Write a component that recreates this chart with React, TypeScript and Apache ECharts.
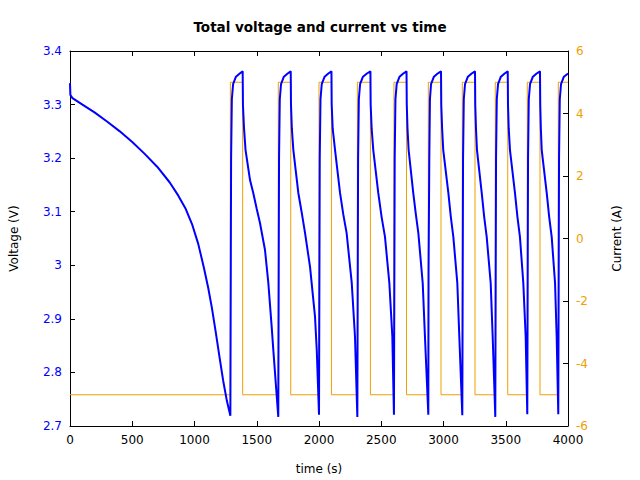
import React, { useEffect, useRef } from "react";
import * as echarts from "echarts";

// ---- Data ----
const xTicks = { min: 0, max: 4000, interval: 500 };
const voltageAxis = { min: 2.7, max: 3.4, interval: 0.1 };
const currentAxis = { min: -6, max: 6, interval: 2 };

// current square wave (A)
const currentHigh = 5;
const currentLow = -5;
const currentRiseTimes = [1288, 1673, 2000, 2308, 2602, 2878, 3151, 3416, 3673, 3922];
const currentFallTimes = [1387, 1773, 2100, 2413, 2703, 2980, 3253, 3516, 3775];

// voltage (V) segments: [time s, voltage V]
const initialDischarge = [
  [0, 3.34], [3, 3.318], [20, 3.312], [100, 3.3], [200, 3.285], [300, 3.268],
  [400, 3.25], [500, 3.23], [600, 3.208], [700, 3.184], [800, 3.155],
  [870, 3.13], [930, 3.105], [980, 3.077], [1030, 3.04], [1075, 2.996],
  [1110, 2.958], [1140, 2.92], [1170, 2.876], [1200, 2.83], [1230, 2.785], [1260, 2.747],
];
const pulse1 = [[1288, 2.719], [1294, 3.2], [1300, 3.31], [1310, 3.338], [1333, 3.352], [1363, 3.358], [1387, 3.362]];
const discharge1 = [[1389, 3.3], [1398, 3.255], [1410, 3.215], [1446, 3.159], [1472, 3.135], [1500, 3.105], [1526, 3.079], [1566, 3.029], [1593, 2.967], [1620, 2.885], [1633, 2.842]];
const pulse2 = [[1673, 2.717], [1679, 3.2], [1685, 3.31], [1695, 3.338], [1718, 3.352], [1748, 3.358], [1773, 3.362]];
const discharge2 = [[1775, 3.3], [1782, 3.255], [1794, 3.215], [1822, 3.159], [1834, 3.135], [1860, 3.1], [1888, 3.06], [1928, 2.997], [1968, 2.904], [1982, 2.842]];
const pulse3 = [[2000, 2.721], [2006, 3.2], [2012, 3.31], [2022, 3.338], [2045, 3.352], [2075, 3.358], [2100, 3.362]];
const discharge3 = [[2102, 3.3], [2110, 3.255], [2129, 3.215], [2169, 3.135], [2195, 3.095], [2222, 3.06], [2263, 2.967], [2289, 2.867]];
const pulse4 = [[2308, 2.717], [2314, 3.2], [2320, 3.31], [2330, 3.338], [2353, 3.352], [2385, 3.358], [2413, 3.362]];
const discharge4 = [[2415, 3.3], [2423, 3.255], [2436, 3.215], [2476, 3.135], [2503, 3.09], [2530, 3.053], [2565, 2.967], [2589, 2.867]];
const pulse5 = [[2602, 2.721], [2608, 3.2], [2614, 3.31], [2624, 3.338], [2647, 3.352], [2677, 3.358], [2703, 3.362]];
const discharge5 = [[2705, 3.3], [2711, 3.255], [2720, 3.215], [2757, 3.135], [2778, 3.095], [2798, 3.06], [2833, 2.967], [2851, 2.867]];
const pulse6 = [[2878, 2.721], [2880, 2.99], [2886, 3.2], [2891, 3.31], [2900, 3.338], [2923, 3.352], [2953, 3.358], [2980, 3.362]];
const discharge6 = [[2982, 3.3], [2989, 3.255], [2998, 3.215], [3039, 3.135], [3059, 3.09], [3079, 3.053], [3111, 2.967], [3127, 2.867]];
const pulse7 = [[3151, 2.72], [3157, 3.2], [3163, 3.31], [3173, 3.338], [3196, 3.352], [3226, 3.358], [3253, 3.362]];
const discharge7 = [[3255, 3.3], [3261, 3.255], [3269, 3.215], [3307, 3.135], [3327, 3.09], [3347, 3.053], [3379, 2.967], [3395, 2.867]];
const pulse8 = [[3416, 2.717], [3422, 3.2], [3428, 3.31], [3438, 3.338], [3461, 3.352], [3491, 3.358], [3516, 3.362]];
const discharge8 = [[3518, 3.3], [3524, 3.255], [3534, 3.215], [3574, 3.135], [3594, 3.09], [3614, 3.053], [3641, 2.967], [3660, 2.867]];
const pulse9 = [[3673, 2.722], [3679, 3.2], [3685, 3.31], [3695, 3.338], [3718, 3.352], [3748, 3.358], [3775, 3.362]];
const discharge9 = [[3777, 3.3], [3782, 3.255], [3789, 3.215], [3829, 3.135], [3849, 3.09], [3869, 3.053], [3896, 2.967], [3909, 2.867]];
const pulse10 = [[3922, 2.722], [3928, 3.2], [3934, 3.31], [3944, 3.338], [3967, 3.352], [4000, 3.358]];

const voltageSegments = [
  initialDischarge, pulse1, discharge1, pulse2, discharge2, pulse3, discharge3,
  pulse4, discharge4, pulse5, discharge5, pulse6, discharge6, pulse7, discharge7,
  pulse8, discharge8, pulse9, discharge9, pulse10,
];

const BLUE = "#0000ff";
const ORANGE = "#eea000";
const FONT = "DejaVu Sans";

export default function App() {
  const ref = useRef<HTMLDivElement>(null);

  useEffect(() => {
    if (!ref.current) return;
    const chart = echarts.init(ref.current, undefined, { renderer: "svg" });

    const voltageData: number[][] = [];
    voltageSegments.forEach((seg) => seg.forEach((p) => voltageData.push(p)));

    const currentData: number[][] = [[0, currentLow]];
    currentRiseTimes.forEach((r, i) => {
      currentData.push([r, currentLow], [r, currentHigh]);
      const f = currentFallTimes[i];
      if (f !== undefined) {
        currentData.push([f, currentHigh], [f, currentLow]);
      } else {
        currentData.push([xTicks.max, currentHigh]);
      }
    });

    const tick = { show: true, inside: true, length: 5, lineStyle: { color: "#000", width: 1 } };
    const axisLine = { show: true, onZero: false, lineStyle: { color: "#000", width: 1 } };

    chart.setOption({
      animation: false,
      backgroundColor: "#ffffff",
      title: {
        text: "Total voltage and current vs time",
        left: "center",
        top: 15,
        textStyle: { fontFamily: FONT, fontSize: 13.5, fontWeight: "bold", color: "#000" },
      },
      grid: { left: 70, right: 72, top: 51, bottom: 54, containLabel: false },
      xAxis: [
        {
          type: "value",
          position: "bottom",
          min: xTicks.min,
          max: xTicks.max,
          interval: xTicks.interval,
          name: "time (s)",
          nameLocation: "middle",
          nameGap: 37,
          nameTextStyle: { fontFamily: FONT, fontSize: 12, color: "#000" },
          axisLine,
          axisTick: tick,
          axisLabel: {
            fontFamily: FONT,
            fontSize: 12,
            color: "#000",
            margin: 8,
            formatter: (v: number) => String(v),
          },
          splitLine: { show: false },
        },
        {
          type: "value",
          position: "top",
          min: xTicks.min,
          max: xTicks.max,
          interval: xTicks.interval,
          axisLine,
          axisTick: tick,
          axisLabel: { show: false },
          splitLine: { show: false },
        },
      ],
      yAxis: [
        {
          type: "value",
          position: "left",
          min: voltageAxis.min,
          max: voltageAxis.max,
          interval: voltageAxis.interval,
          name: "Voltage (V)",
          nameLocation: "middle",
          nameGap: 50,
          nameTextStyle: { fontFamily: FONT, fontSize: 12, color: "#000" },
          axisLine,
          axisTick: tick,
          axisLabel: {
            fontFamily: FONT,
            fontSize: 12,
            color: BLUE,
            margin: 8,
            formatter: (v: number) => String(parseFloat(v.toFixed(1))),
          },
          splitLine: { show: false },
        },
        {
          type: "value",
          position: "right",
          min: currentAxis.min,
          max: currentAxis.max,
          interval: currentAxis.interval,
          name: "Current (A)",
          nameLocation: "middle",
          nameGap: 43,
          nameRotate: 90,
          nameTextStyle: { fontFamily: FONT, fontSize: 12, color: "#000" },
          axisLine,
          axisTick: tick,
          axisLabel: { fontFamily: FONT, fontSize: 12, color: ORANGE, margin: 8 },
          splitLine: { show: false },
        },
      ],
      series: [
        {
          type: "line",
          name: "Current",
          xAxisIndex: 0,
          yAxisIndex: 1,
          data: currentData,
          showSymbol: false,
          symbol: "none",
          lineStyle: { color: ORANGE, width: 1 },
          z: 2,
        },
        {
          type: "line",
          name: "Voltage",
          xAxisIndex: 0,
          yAxisIndex: 0,
          data: voltageData,
          showSymbol: false,
          symbol: "none",
          lineStyle: { color: BLUE, width: 2 },
          z: 3,
        },
      ],
    });

    return () => chart.dispose();
  }, []);

  return <div ref={ref} style={{ width: 640, height: 480, position: "absolute", left: 0, top: 0 }} />;
}
